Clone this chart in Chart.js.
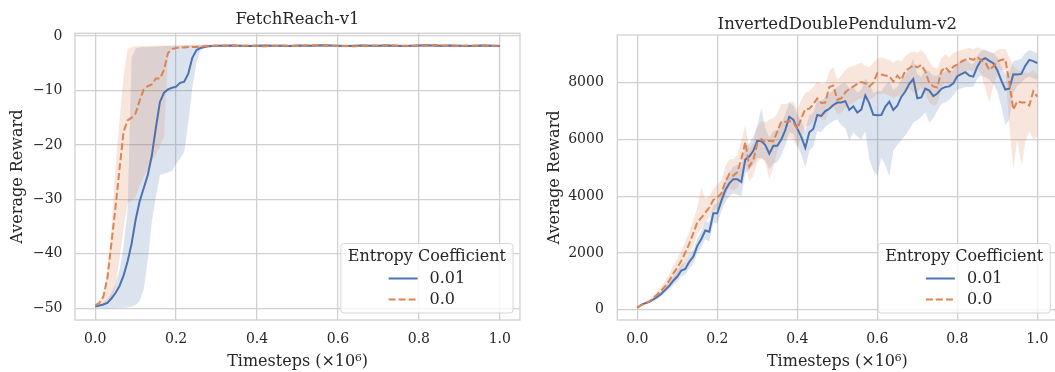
<!DOCTYPE html>
<html>
<head>
<meta charset="utf-8">
<script src="https://cdn.jsdelivr.net/npm/chart.js@4.4.0/dist/chart.umd.min.js"></script>
<style>
    html, body { margin: 0; padding: 0; background: #fff; overflow: hidden; width: 1055px; height: 372px; }
    #fetchChart { position: absolute; left: 0; top: 0; }
    #pendChart { position: absolute; left: 530px; top: 0; }
</style>
</head>
<body>
<canvas id="fetchChart" width="540" height="372"></canvas>
<canvas id="pendChart" width="540" height="372"></canvas>
<script>
// ===== Data =====

const seriesLabels = ['0.01', '0.0'];
const xTickValues = [0, 0.2, 0.4, 0.6, 0.8, 1.0];

// FetchReach-v1 (timesteps in 1e6)
const fetchSteps = [
    0, 0.01, 0.02, 0.03, 0.04, 0.05, 0.06, 0.07, 0.08, 0.09,
    0.10, 0.11, 0.12, 0.13, 0.14, 0.15, 0.16, 0.17, 0.18, 0.19,
    0.20, 0.21, 0.22, 0.23, 0.24, 0.25, 0.26, 0.27, 0.28, 0.29, 0.30,
    0.32, 0.34, 0.36, 0.38, 0.40, 0.42, 0.44, 0.46, 0.48, 0.50,
    0.52, 0.54, 0.56, 0.58, 0.60, 0.62, 0.64, 0.66, 0.68, 0.70,
    0.72, 0.74, 0.76, 0.78, 0.80, 0.82, 0.84, 0.86, 0.88, 0.90,
    0.92, 0.94, 0.96, 0.98, 1.00
];
const fetchMean01 = [
    -49.7, -49.5, -49.3, -49.0, -48.2, -47.2, -45.9, -44.0, -41.4, -38.1,
    -33.7, -30.3, -27.9, -25.5, -21.9, -16.8, -12.1, -10.4, -9.8, -9.5,
    -9.3, -8.6, -8.4, -6.9, -4.0, -2.6, -2.2, -2.0, -1.9, -1.85, -1.8,
    -1.8, -1.75, -1.8, -1.85, -1.8, -1.75, -1.8, -1.8, -1.85, -1.75,
    -1.8, -1.8, -1.7, -1.75, -1.8, -1.85, -1.8, -1.75, -1.8, -1.8,
    -1.75, -1.8, -1.85, -1.8, -1.75, -1.7, -1.8, -1.8, -1.75, -1.8,
    -1.85, -1.8, -1.75, -1.8, -1.85
];
const fetchLow01 = [
    -49.8, -49.9, -50.0, -50.0, -50.0, -50.0, -49.9, -49.9, -49.8, -49.7,
    -49.4, -48.6, -46.5, -41.0, -34.0, -29.5, -25.5, -25.3, -25.0, -24.8,
    -23.5, -22.5, -21.2, -16.0, -9.5, -5.0, -2.7, -2.2, -2.05, -2.0, -1.95,
    -2.0, -1.95, -2.0, -2.05, -2.0, -1.95, -2.0, -2.0, -2.05, -1.95,
    -2.0, -2.0, -1.9, -1.95, -2.0, -2.05, -2.0, -1.95, -2.0, -2.0,
    -1.95, -2.0, -2.05, -2.0, -1.95, -1.9, -2.0, -2.0, -1.95, -2.0,
    -2.05, -2.0, -1.95, -2.0, -2.05
];
const fetchHigh01 = [
    -49.6, -49.3, -48.9, -48.3, -47.2, -45.5, -43.0, -38.5, -32.0, -4.0,
    -2.3, -2.1, -2.0, -2.0, -1.95, -1.95, -1.9, -1.9, -1.85, -1.85,
    -1.8, -1.8, -1.75, -1.7, -1.7, -1.65, -1.65, -1.6, -1.6, -1.6, -1.6,
    -1.6, -1.55, -1.6, -1.65, -1.6, -1.55, -1.6, -1.6, -1.65, -1.55,
    -1.6, -1.6, -1.5, -1.55, -1.6, -1.65, -1.6, -1.55, -1.6, -1.6,
    -1.55, -1.6, -1.65, -1.6, -1.55, -1.5, -1.6, -1.6, -1.55, -1.6,
    -1.65, -1.6, -1.55, -1.6, -1.65
];
const fetchMean00 = [
    -49.5, -49.0, -47.9, -44.5, -38.1, -31.5, -24.5, -17.6, -15.5, -15.0,
    -14.2, -11.8, -9.8, -9.2, -8.9, -7.8, -7.8, -6.2, -3.1, -2.4,
    -2.2, -2.1, -2.1, -2.0, -2.0, -2.0, -1.95, -1.9, -1.85, -1.8, -1.8,
    -1.75, -1.8, -1.85, -1.75, -1.8, -1.9, -1.8, -1.75, -1.8, -1.85,
    -1.75, -1.7, -1.8, -1.75, -1.85, -1.8, -1.9, -1.8, -1.75, -1.8,
    -1.7, -1.75, -1.8, -1.85, -1.8, -1.75, -1.65, -1.75, -1.8, -1.85,
    -1.75, -1.8, -1.75, -1.8, -1.8
];
const fetchLow00 = [
    -49.6, -49.5, -49.4, -49.1, -48.5, -46.0, -41.0, -35.5, -30.7, -30.3,
    -29.5, -27.5, -25.8, -24.5, -23.0, -21.7, -20.3, -18.5, -3.0, -2.3,
    -2.2, -2.15, -2.1, -2.1, -2.05, -2.05, -2.0, -2.0, -2.0, -2.0, -1.95,
    -1.95, -2.0, -2.05, -1.95, -2.0, -2.1, -2.0, -1.95, -2.0, -2.05,
    -1.95, -1.9, -2.0, -1.95, -2.05, -2.0, -2.1, -2.0, -1.95, -2.0,
    -1.9, -1.95, -2.0, -2.05, -2.0, -1.95, -1.85, -1.95, -2.0, -2.05,
    -1.95, -2.0, -1.95, -2.0, -2.0
];
const fetchHigh00 = [
    -49.4, -48.9, -47.3, -43.0, -35.5, -24.0, -15.4, -7.5, -2.4, -2.0,
    -1.9, -1.9, -1.85, -1.85, -1.8, -1.8, -1.8, -1.75, -1.75, -1.7,
    -1.7, -1.7, -1.65, -1.65, -1.6, -1.6, -1.6, -1.6, -1.55, -1.55, -1.55,
    -1.55, -1.6, -1.65, -1.55, -1.6, -1.7, -1.6, -1.55, -1.6, -1.65,
    -1.55, -1.5, -1.6, -1.55, -1.65, -1.6, -1.7, -1.6, -1.55, -1.6,
    -1.5, -1.55, -1.6, -1.65, -1.6, -1.55, -1.45, -1.55, -1.6, -1.65,
    -1.55, -1.6, -1.55, -1.6, -1.6
];
const fetchYTicks = [0, -10, -20, -30, -40, -50];

// InvertedDoublePendulum-v2 (timesteps in 1e6)
const pendSteps = [
    0, 0.01, 0.02, 0.03, 0.04, 0.05, 0.06, 0.07, 0.08, 0.09,
    0.10, 0.11, 0.12, 0.13, 0.14, 0.15, 0.16, 0.17, 0.18, 0.19,
    0.20, 0.21, 0.22, 0.23, 0.24, 0.25, 0.26, 0.27, 0.28, 0.29,
    0.30, 0.31, 0.32, 0.33, 0.34, 0.35, 0.36, 0.37, 0.38, 0.39,
    0.40, 0.41, 0.42, 0.43, 0.44, 0.45, 0.46, 0.47, 0.48, 0.49,
    0.50, 0.51, 0.52, 0.53, 0.54, 0.55, 0.56, 0.57, 0.58, 0.59,
    0.60, 0.61, 0.62, 0.63, 0.64, 0.65, 0.66, 0.67, 0.68, 0.69,
    0.70, 0.71, 0.72, 0.73, 0.74, 0.75, 0.76, 0.77, 0.78, 0.79,
    0.80, 0.81, 0.82, 0.83, 0.84, 0.85, 0.86, 0.87, 0.88, 0.89,
    0.90, 0.91, 0.92, 0.93, 0.94, 0.95, 0.96, 0.97, 0.98, 0.99,
    1.00
];
const pendMean01 = [
    70, 170, 230, 275, 360, 450, 560, 700, 840, 1020,
    1170, 1380, 1440, 1690, 1870, 2250, 2490, 2790, 2750, 3400,
    3400, 3830, 4210, 4450, 4600, 4600, 4500, 5290, 5400, 5600,
    5950, 5940, 5805, 5500, 5780, 5780, 6000, 6330, 6800, 6700,
    6380, 6090, 5700, 6250, 6370, 6860, 6830, 7000, 7080, 7215,
    7300, 7300, 7350, 7040, 7170, 6950, 7050, 7550, 7274, 6870,
    6850, 6860, 7150, 7333, 7040, 7190, 7500, 7690, 7960, 8130,
    7450, 7480, 7790, 7720, 7530, 7620, 7780, 7850, 7870, 7980,
    8230, 8300, 8370, 8250, 8215, 8560, 8800, 8862, 8770, 8686,
    8440, 8080, 7760, 7790, 8300, 8290, 8310, 8600, 8803, 8760,
    8686
];
const pendLow01 = [
    50, 140, 200, 240, 300, 380, 470, 590, 720, 860,
    990, 1180, 1230, 1450, 1620, 1980, 2200, 2480, 2400, 3050,
    3050, 3450, 3800, 4000, 4100, 4050, 4000, 4800, 4950, 5100,
    5350, 5350, 5250, 4950, 5150, 5200, 5450, 5800, 6250, 6200,
    5800, 5450, 5000, 5600, 5750, 6300, 6250, 6450, 6550, 6650,
    6700, 6500, 6400, 5950, 6250, 6100, 6000, 6300, 5300, 4900,
    4700, 5350, 5100, 4700, 5600, 5800, 5980, 6150, 6350, 6600,
    6680, 6800, 6950, 6600, 6750, 7000, 7250, 7300, 7400, 7550,
    7750, 7800, 7850, 7850, 7850, 8150, 8250, 8200, 8100, 7950,
    7700, 7150, 6500, 6700, 7650, 7900, 8000, 8150, 8220, 8150,
    8100
];
const pendHigh01 = [
    90, 200, 260, 320, 420, 530, 660, 820, 980, 1190,
    1370, 1580, 1680, 1950, 2130, 2520, 2780, 3080, 3100, 3700,
    3750, 4150, 4550, 4850, 5050, 5100, 5050, 5750, 5850, 6100,
    6500, 7100, 6400, 6050, 6300, 6350, 6550, 6900, 7300, 7200,
    6900, 6650, 6300, 6850, 6950, 7400, 7350, 7500, 7600, 7750,
    7850, 7950, 8000, 7800, 7850, 7650, 7750, 8150, 7950, 7650,
    7700, 7700, 7900, 8050, 7750, 7850, 8100, 8250, 8500, 8850,
    8300, 8200, 8450, 8400, 8250, 8250, 8350, 8400, 8400, 8450,
    8700, 8750, 8850, 8700, 8650, 8950, 9120, 9156, 9100, 9050,
    8900, 8600, 8300, 8350, 8750, 8800, 8850, 9050, 9150, 9100,
    9040
];
const pendMean00 = [
    70, 160, 230, 290, 410, 540, 680, 830, 1030, 1281,
    1480, 1720, 2010, 2330, 2690, 3080, 3240, 3420, 3600, 3866,
    3950, 4100, 4500, 4790, 4720, 4850, 5300, 5900, 5050, 5275,
    5850, 6010, 5900, 5950, 5930, 6275, 6627, 6620, 6650, 6600,
    6370, 6750, 7070, 7080, 7240, 7450, 7290, 7300, 7850, 7900,
    7400, 7450, 7660, 7780, 7862, 7960, 8020, 7980, 7870, 8000,
    8333, 8290, 8250, 8230, 8040, 8250, 8100, 8420, 8509, 8620,
    8540, 8626, 8400, 7990, 7870, 7830, 8400, 8550, 8380, 8568,
    8640, 8740, 8815, 8850, 8803, 8910, 8780, 8720, 8450, 8568,
    8750, 8800, 8830, 8000, 7050, 7350, 7300, 7300, 7200, 7700,
    7509
];
const pendLow00 = [
    50, 130, 190, 240, 330, 440, 560, 680, 840, 1050,
    1200, 1400, 1650, 1950, 2250, 2650, 2850, 3050, 3250, 3500,
    3550, 3650, 4000, 4300, 4200, 4300, 4700, 5200, 4500, 4700,
    5200, 5350, 5200, 4600, 5000, 5600, 5950, 6000, 6050, 6000,
    5700, 6100, 6450, 6500, 6650, 6850, 6700, 6700, 7050, 7150,
    6900, 6950, 7100, 7200, 7300, 7400, 7450, 7450, 7400, 7500,
    7600, 7600, 7600, 7550, 7450, 7550, 7500, 7700, 7800, 7650,
    7700, 7800, 7650, 7300, 7200, 7250, 7800, 8000, 7900, 8050,
    8200, 8300, 8400, 8450, 8400, 8500, 8300, 7800, 7300, 7900,
    8300, 8450, 8450, 6500, 4950, 5980, 5100, 5900, 6300, 6000,
    6100
];
const pendHigh00 = [
    90, 200, 280, 360, 500, 660, 830, 1010, 1250, 1560,
    1800, 2080, 2400, 2750, 3150, 3600, 4300, 3900, 4000, 4250,
    4400, 4550, 5050, 5300, 5300, 5450, 5950, 6500, 5650, 5900,
    6450, 6650, 6600, 6700, 6750, 6900, 7250, 7250, 7300, 7350,
    7050, 7400, 7650, 7700, 7850, 8050, 7950, 7950, 8400, 8550,
    8100, 8250, 8450, 8550, 8600, 8650, 8700, 8600, 8550, 8700,
    8850, 8900, 8850, 8800, 8700, 8800, 8750, 8950, 9050, 9100,
    9050, 9150, 9000, 8750, 8550, 8500, 8850, 9000, 8900, 9050,
    9100, 9150, 9200, 9220, 9180, 9250, 9200, 9150, 9050, 9050,
    9150, 9180, 9200, 8900, 8600, 8450, 8400, 8350, 8350, 8450,
    8300
];
const pendYTicks = [0, 2000, 4000, 6000, 8000];

// ===== Style =====

const BLUE = '#4c72b0';
const ORANGE = '#dd8452';
const BLUE_BAND = 'rgba(76, 114, 176, 0.2)';
const ORANGE_BAND = 'rgba(221, 132, 82, 0.2)';
const GRID = '#d0d0d0';
const TEXT = '#262626';
const FONT = "'DejaVu Serif', serif";
const DASH = [7, 3];

Chart.defaults.font.family = FONT;
Chart.defaults.color = TEXT;
Chart.defaults.animation = false;

function points(xs, ys) {
    return xs.map((x, i) => ({ x: x, y: ys[i] }));
}

function minusSign(v) {
    return v < 0 ? '\u2212' + Math.abs(v) : String(v);
}

// Frame, panel title and the "Entropy Coefficient" legend
const panelDecor = {
    id: 'panelDecor',
    beforeDatasetsDraw(chart) {
        const { ctx, chartArea: a } = chart;
        ctx.save();
        ctx.strokeStyle = GRID;
        ctx.lineWidth = 1.3;
        ctx.strokeRect(a.left, a.top, a.right - a.left, a.bottom - a.top);
        ctx.restore();
    },
    afterDraw(chart, args, opts) {
        const { ctx, chartArea: a } = chart;
        ctx.save();
        ctx.fillStyle = TEXT;
        ctx.textAlign = 'center';
        ctx.textBaseline = 'alphabetic';
        ctx.font = '16.5px ' + FONT;
        ctx.fillText(opts.title, (a.left + a.right) / 2, opts.titleY);

        // legend box
        ctx.font = '16px ' + FONT;
        const title = 'Entropy Coefficient';
        const boxW = ctx.measureText(title).width + 14;
        const boxH = 69.5;
        const right = a.right - 7;
        const bottom = a.bottom - 7;
        const left = right - boxW;
        const top = bottom - boxH;
        const r = 3;
        ctx.beginPath();
        ctx.moveTo(left + r, top);
        ctx.arcTo(right, top, right, bottom, r);
        ctx.arcTo(right, bottom, left, bottom, r);
        ctx.arcTo(left, bottom, left, top, r);
        ctx.arcTo(left, top, right, top, r);
        ctx.closePath();
        ctx.fillStyle = 'rgba(255, 255, 255, 0.8)';
        ctx.fill();
        ctx.strokeStyle = '#d6d6d6';
        ctx.lineWidth = 1;
        ctx.stroke();

        const cx = (left + right) / 2;
        ctx.fillStyle = TEXT;
        ctx.textBaseline = 'middle';
        ctx.fillText(title, cx, top + 13.5);

        const handle = 29, gap = 12;
        const labelW = Math.max(...seriesLabels.map(s => ctx.measureText(s).width));
        const gx = cx - (handle + gap + labelW) / 2;
        const rows = [
            { text: seriesLabels[0], color: BLUE, dash: [] },
            { text: seriesLabels[1], color: ORANGE, dash: DASH }
        ];
        rows.forEach((row, i) => {
            const y = top + 35 + i * 21;
            ctx.beginPath();
            ctx.setLineDash(row.dash);
            ctx.strokeStyle = row.color;
            ctx.lineWidth = 2;
            ctx.moveTo(gx, y);
            ctx.lineTo(gx + handle, y);
            ctx.stroke();
            ctx.setLineDash([]);
            ctx.textAlign = 'left';
            ctx.fillStyle = TEXT;
            ctx.fillText(row.text, gx + handle + gap, y);
        });
        ctx.restore();
    }
};

function createPanel(canvasId, cfg) {
    const ctx = document.getElementById(canvasId).getContext('2d');
    const line = (data, color, dash) => ({
        data: points(cfg.steps, data),
        borderColor: color,
        borderWidth: 2,
        borderDash: dash,
        pointRadius: 0,
        tension: 0,
        fill: false
    });
    const bound = (data, fillColor, fill) => ({
        data: points(cfg.steps, data),
        borderColor: 'transparent',
        borderWidth: 0,
        backgroundColor: fillColor,
        pointRadius: 0,
        tension: 0,
        fill: fill
    });

    return new Chart(ctx, {
        type: 'line',
        data: {
            datasets: [
                Object.assign(line(cfg.mean00, ORANGE, DASH), { label: seriesLabels[1] }),
                Object.assign(line(cfg.mean01, BLUE, []), { label: seriesLabels[0] }),
                bound(cfg.high00, ORANGE_BAND, '+1'),
                bound(cfg.low00, ORANGE_BAND, false),
                bound(cfg.high01, BLUE_BAND, '+1'),
                bound(cfg.low01, BLUE_BAND, false)
            ]
        },
        options: {
            responsive: false,
            devicePixelRatio: 1,
            layout: { padding: cfg.padding },
            plugins: {
                legend: { display: false },
                tooltip: { enabled: false },
                panelDecor: { title: cfg.title, titleY: cfg.titleY }
            },
            scales: {
                x: {
                    type: 'linear',
                    min: -0.05,
                    max: 1.05,
                    afterBuildTicks: s => { s.ticks = xTickValues.map(v => ({ value: v })); },
                    afterFit: s => { s.height = 52; },
                    ticks: {
                        autoSkip: false,
                        maxRotation: 0,
                        padding: 11,
                        font: { size: 14 },
                        callback: v => v.toFixed(1)
                    },
                    grid: { color: GRID, lineWidth: 1.3, drawTicks: false },
                    border: { display: false },
                    title: {
                        display: true,
                        text: 'Timesteps (\u00d710\u2076)',
                        font: { size: 16 },
                        padding: { top: 0, bottom: 0.7 }
                    }
                },
                y: {
                    type: 'linear',
                    min: cfg.yMin,
                    max: cfg.yMax,
                    afterBuildTicks: s => { s.ticks = cfg.yTicks.map(v => ({ value: v })); },
                    afterFit: s => { s.width = cfg.yWidth; },
                    ticks: {
                        autoSkip: false,
                        padding: cfg.yTickPad,
                        font: { size: 14 },
                        callback: minusSign
                    },
                    grid: { color: GRID, lineWidth: 1.3, drawTicks: false },
                    border: { display: false },
                    title: {
                        display: true,
                        text: 'Average Reward',
                        font: { size: 16 },
                        padding: { top: cfg.yTitlePad, bottom: 0 }
                    }
                }
            }
        },
        plugins: [panelDecor]
    });
}

createPanel('fetchChart', {
    title: 'FetchReach-v1',
    titleY: 24,
    steps: fetchSteps,
    mean01: fetchMean01, low01: fetchLow01, high01: fetchHigh01,
    mean00: fetchMean00, low00: fetchLow00, high00: fetchHigh00,
    yMin: -52.15, yMax: 0.5,
    yTicks: fetchYTicks,
    yWidth: 75,
    yTickPad: 12.5,
    yTitlePad: 8,
    padding: { left: 0, right: 20, top: 33.3, bottom: 0 }
});

createPanel('pendChart', {
    title: 'InvertedDoublePendulum-v2',
    titleY: 29,
    steps: pendSteps,
    mean01: pendMean01, low01: pendLow01, high01: pendHigh01,
    mean00: pendMean00, low00: pendLow00, high00: pendHigh00,
    yMin: -363, yMax: 9681,
    yTicks: pendYTicks,
    yWidth: 87.3,
    yTickPad: 13.5,
    yTitlePad: 15,
    padding: { left: 0, right: 12.7, top: 35, bottom: 0 }
});
</script>
</body>
</html>
